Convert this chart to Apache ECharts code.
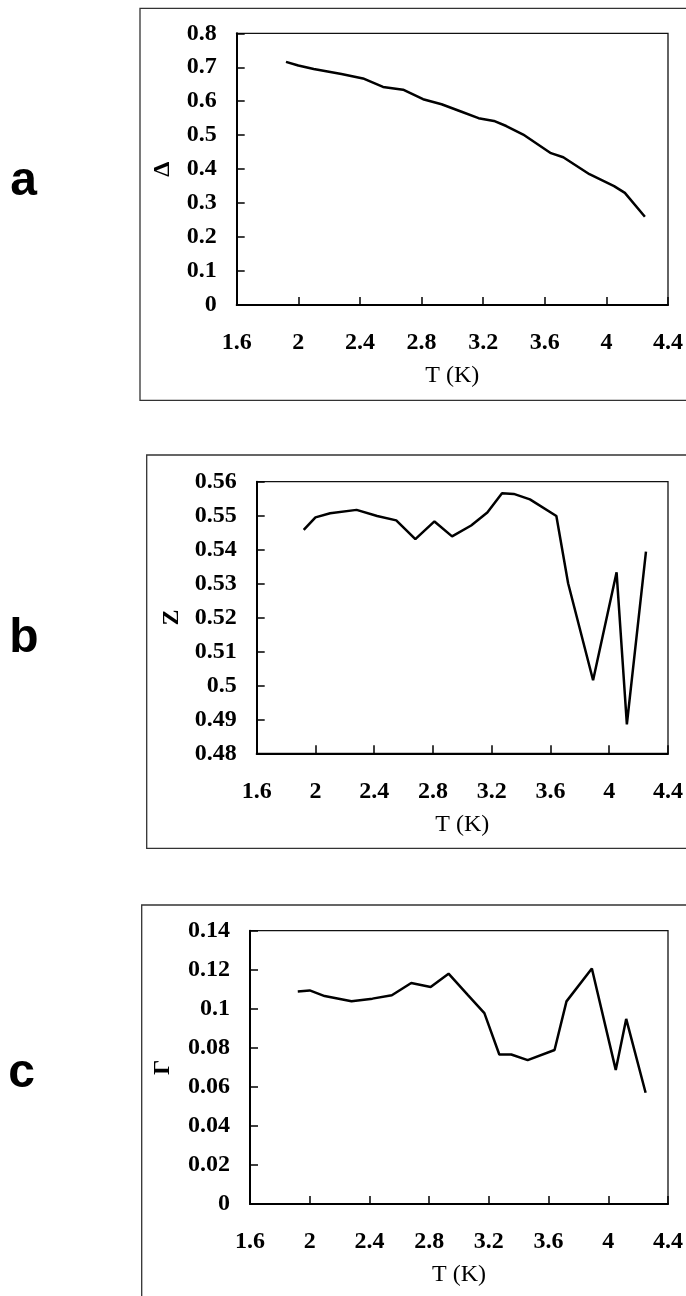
<!DOCTYPE html>
<html>
<head>
<meta charset="utf-8">
<script src="https://cdn.jsdelivr.net/npm/echarts/dist/echarts.min.js"></script>
<style>
  html, body { margin: 0; padding: 0; background: #fff; }
  #chart { width: 686px; height: 1296px; }
</style>
</head>
<body>
<div id="chart"></div>
<script>
// Temperature points (K) shared by the three panels
const temps = [1.92, 2.0, 2.1, 2.28, 2.42, 2.55, 2.68, 2.81, 2.93, 3.06,
               3.17, 3.27, 3.35, 3.46, 3.64, 3.72, 3.89, 4.05, 4.12, 4.25];

// Panel a: gap Δ
const gapValues = [0.716, 0.705, 0.695, 0.680, 0.667, 0.642, 0.634, 0.606, 0.591, 0.569,
                   0.550, 0.542, 0.527, 0.502, 0.447, 0.435, 0.385, 0.350, 0.330, 0.260];

// Panel b: Z
const zValues = [0.5458, 0.5495, 0.5507, 0.5517, 0.5499, 0.5486, 0.5431, 0.5483, 0.5439, 0.5471,
                 0.5509, 0.5566, 0.5564, 0.5548, 0.5499, 0.5301, 0.5015, 0.5333, 0.4885, 0.5394];

// Panel c: Γ
const gammaValues = [0.1089, 0.1094, 0.1065, 0.1039, 0.1052, 0.1069, 0.1132, 0.1112, 0.1180, 0.1070,
                     0.0978, 0.0766, 0.0766, 0.0737, 0.0789, 0.1038, 0.1206, 0.0687, 0.0948, 0.0570];

const panelLetters = ['a', 'b', 'c'];
const yNames = ['\u0394', 'Z', '\u0393'];
const xName = 'T (K)';
const yRanges = [[0, 0.8, 0.1], [0.48, 0.56, 0.01], [0, 0.14, 0.02]];
const xRange = [1.6, 4.4, 0.4];

const serif = '"Liberation Serif", "Times New Roman", serif';
const fmt = v => String(parseFloat(Number(v).toFixed(3)));

// Layout of each panel (pixels)
const grids = [
  { left: 236.7, top: 33.3,  width: 431.6, height: 271.7 },
  { left: 256.7, top: 481.7, width: 421.6, height: 271.6 },
  { left: 250,   top: 930.7, width: 419,   height: 273.3 }
];
const frames = [
  { x: 140,   y: 8.3, height: 392 },
  { x: 146.7, y: 455, height: 393.3 },
  { x: 141.7, y: 905, height: 400 }
];
const letterPos = [[23.5, 181.5], [24, 638.5], [21.5, 1073.5]];
const yNameGaps = [62, 69, 75];

const seriesData = [gapValues, zValues, gammaValues];

const option = {
  animation: false,
  backgroundColor: '#fff',
  grid: grids.map(g => Object.assign({
    show: true, borderColor: '#111', borderWidth: 1.3, backgroundColor: 'transparent',
    containLabel: false
  }, g)),
  xAxis: grids.map((g, i) => ({
    type: 'value', gridIndex: i,
    min: xRange[0], max: xRange[1], interval: xRange[2],
    name: xName, nameLocation: 'middle', nameGap: 59,
    nameTextStyle: { fontFamily: serif, fontSize: 24, color: '#000' },
    axisLine: { show: true, onZero: false, lineStyle: { color: '#000', width: 2 } },
    axisTick: { show: true, inside: true, length: 8, lineStyle: { color: '#000', width: 1.5 } },
    axisLabel: { show: true, margin: 26, formatter: fmt, fontFamily: serif, fontWeight: 'bold',
                 fontSize: 24, color: '#000', showMinLabel: true, showMaxLabel: true },
    splitLine: { show: false }
  })),
  yAxis: grids.map((g, i) => ({
    type: 'value', gridIndex: i,
    min: yRanges[i][0], max: yRanges[i][1], interval: yRanges[i][2],
    name: yNames[i], nameLocation: 'middle', nameRotate: 90, nameGap: yNameGaps[i],
    nameTextStyle: { fontFamily: serif, fontWeight: 'bold', fontSize: 24, color: '#000' },
    axisLine: { show: true, onZero: false, lineStyle: { color: '#000', width: 2 } },
    axisTick: { show: true, inside: true, length: 8, lineStyle: { color: '#000', width: 1.5 } },
    axisLabel: { show: true, margin: 20, formatter: fmt, fontFamily: serif, fontWeight: 'bold',
                 fontSize: 24, color: '#000', showMinLabel: true, showMaxLabel: true },
    splitLine: { show: false }
  })),
  series: seriesData.map((vals, i) => ({
    type: 'line', xAxisIndex: i, yAxisIndex: i,
    data: temps.map((t, k) => [t, vals[k]]),
    showSymbol: false, symbol: 'none', smooth: false, silent: true,
    lineStyle: { color: '#000', width: 2.5 }
  })),
  graphic: [
    ...frames.map(f => ({
      type: 'rect', silent: true, z: -1,
      shape: { x: f.x, y: f.y, width: 620, height: f.height },
      style: { fill: 'none', stroke: '#333', lineWidth: 1.3 }
    })),
    ...panelLetters.map((ch, i) => ({
      type: 'text', silent: true,
      x: letterPos[i][0], y: letterPos[i][1],
      style: { text: ch, fill: '#000', fontFamily: '"Liberation Sans", Arial, sans-serif',
               fontWeight: 'bold', fontSize: 48, align: 'center', verticalAlign: 'middle' }
    }))
  ]
};

const chart = echarts.init(document.getElementById('chart'), null, { renderer: 'canvas' });
chart.setOption(option);
</script>
</body>
</html>
